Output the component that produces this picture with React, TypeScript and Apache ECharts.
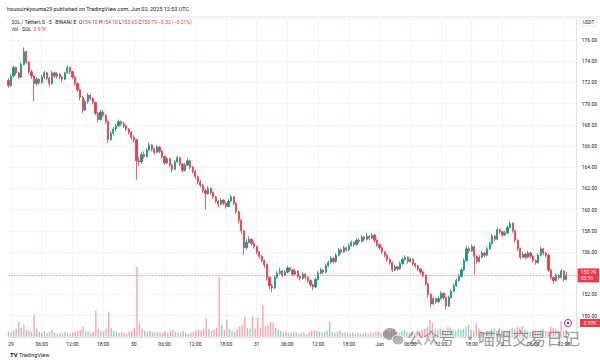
import React, { useEffect, useRef } from "react";
import * as echarts from "echarts";

// ---- data (30-minute aggregation) ----
const firstOpen = 172.2;
const closes = [
  171.7, 172.6, 173.4, 172.9, 172.5, 173.7, 174.9, 173.9, 173.0, 172.6, 171.9, 172.3,
  172.0, 172.5, 172.9, 172.4, 171.9, 172.9, 172.6, 172.8, 172.5, 172.3, 172.9, 173.4,
  173.0, 172.5, 171.9, 171.3, 170.6, 169.4, 170.2, 170.8, 170.5, 170.1, 169.1, 168.5,
  169.2, 168.9, 168.3, 166.6, 167.2, 167.6, 167.9, 168.3, 168.1, 167.9, 167.6, 167.3,
  166.8, 166.6, 164.6, 164.5, 165.2, 165.0, 165.6, 166.1, 165.7, 165.4, 165.9, 165.5,
  165.0, 164.4, 164.8, 164.2, 163.8, 164.5, 164.9, 164.3, 163.7, 164.2, 164.6, 164.0,
  163.6, 163.1, 162.6, 162.3, 161.8, 161.5, 162.0, 161.6, 161.2, 160.8, 160.5, 160.9,
  160.6, 160.3, 160.8, 161.2, 160.6, 159.8, 159.0, 158.0, 156.4, 156.9, 157.2, 156.8,
  156.5, 156.0, 155.6, 155.2, 154.8, 153.6, 152.8, 152.6, 153.6, 154.0, 154.2, 153.8,
  154.1, 154.5, 154.3, 153.9, 154.2, 153.7, 153.5, 153.9, 153.6, 153.3, 152.9, 152.7,
  153.4, 154.0, 154.3, 154.1, 154.7, 155.0, 155.4, 155.1, 155.7, 156.2, 156.0, 156.4,
  156.2, 156.6, 156.9, 156.7, 157.1, 157.0, 157.4, 157.2, 157.5, 157.3, 157.6, 157.1,
  156.7, 156.4, 156.0, 155.7, 155.3, 155.0, 154.3, 154.6, 154.4, 154.9, 155.3, 155.5,
  155.1, 155.3, 154.9, 154.7, 154.4, 154.1, 153.8, 153.0, 152.0, 151.1, 151.6, 151.3,
  151.6, 152.1, 151.7, 150.9, 151.7, 152.3, 152.8, 153.3, 153.7, 154.3, 155.2, 156.3,
  156.1, 156.5, 155.6, 155.1, 155.5, 155.9, 155.7, 156.3, 156.8, 157.5, 157.2, 158.1,
  157.9, 157.6, 157.8, 158.3, 158.7, 158.0, 157.1, 156.3, 155.5, 155.8, 155.5, 155.9,
  155.6, 155.2, 155.0, 155.7, 156.3, 155.9, 155.7, 154.3, 153.6, 153.3, 153.8, 153.6,
  154.2, 153.4, 153.79,
];
const highs = [
  172.4, 172.8, 173.6, 173.5, 173.0, 173.9, 175.3, 175.0, 174.0, 173.2, 172.7, 172.5,
  172.4, 172.7, 173.1, 173.0, 172.5, 173.1, 173.0, 173.0, 172.9, 172.6, 173.0, 173.6,
  173.5, 173.1, 172.6, 172.0, 171.4, 170.7, 170.4, 171.0, 170.9, 170.6, 170.2, 169.2,
  169.4, 169.4, 169.0, 168.4, 167.4, 167.8, 168.1, 168.5, 168.4, 168.3, 168.0, 167.7,
  167.4, 167.0, 166.7, 165.0, 165.4, 165.5, 165.8, 166.3, 166.2, 165.8, 166.1, 166.0,
  165.6, 165.1, 165.0, 164.9, 164.3, 164.7, 165.1, 165.0, 164.4, 164.4, 164.8, 164.7,
  164.1, 163.7, 163.2, 162.8, 162.4, 162.0, 162.2, 162.1, 161.7, 161.3, 160.9, 161.1,
  161.0, 160.7, 161.0, 161.4, 161.3, 160.7, 159.9, 159.1, 158.1, 157.2, 157.5, 157.3,
  157.0, 156.6, 156.1, 155.7, 155.3, 154.9, 153.7, 153.0, 153.8, 154.2, 154.5, 154.3,
  154.3, 154.7, 154.6, 154.4, 154.4, 154.3, 153.8, 154.1, 154.0, 153.7, 153.4, 153.0,
  153.6, 154.2, 154.5, 154.4, 154.9, 155.2, 155.6, 155.5, 155.9, 156.4, 156.3, 156.6,
  156.5, 156.8, 157.1, 157.0, 157.3, 157.3, 157.6, 157.5, 157.8, 157.6, 157.8, 157.7,
  157.2, 156.8, 156.5, 156.1, 155.8, 155.4, 155.1, 154.8, 154.7, 155.1, 155.5, 155.7,
  155.6, 155.5, 155.4, 155.0, 154.8, 154.5, 154.2, 153.9, 153.1, 152.1, 151.8, 151.7,
  151.8, 152.3, 152.2, 151.8, 151.9, 152.5, 153.0, 153.5, 153.9, 154.5, 155.4, 156.6,
  156.5, 156.7, 156.6, 155.7, 155.7, 156.1, 156.0, 156.5, 157.0, 157.7, 157.6, 158.3,
  158.2, 158.0, 158.0, 158.5, 158.9, 158.8, 158.1, 157.2, 156.4, 156.0, 155.9, 156.1,
  156.0, 155.7, 155.3, 155.9, 156.5, 156.4, 156.0, 155.8, 154.4, 153.7, 154.0, 153.9,
  154.4, 154.3, 154.1,
];
const lows = [
  171.5, 171.6, 172.5, 172.7, 172.3, 172.4, 173.6, 173.7, 172.8, 172.3, 170.2, 171.7,
  171.8, 171.9, 172.3, 172.2, 171.6, 171.8, 172.4, 172.4, 172.3, 172.0, 172.2, 172.8,
  172.8, 172.3, 171.7, 171.1, 170.3, 169.1, 169.3, 170.0, 170.3, 169.9, 168.9, 168.2,
  168.4, 168.7, 168.1, 166.3, 166.5, 167.0, 167.4, 167.8, 167.9, 167.7, 167.4, 167.1,
  166.6, 166.3, 162.8, 164.1, 164.3, 164.8, 164.9, 165.5, 165.5, 165.2, 165.3, 165.3,
  164.8, 164.2, 164.3, 164.0, 163.5, 163.7, 164.4, 164.1, 163.5, 163.6, 164.1, 163.8,
  163.4, 162.9, 162.4, 162.1, 161.6, 160.0, 161.4, 161.4, 161.0, 160.6, 160.2, 160.4,
  160.4, 160.1, 160.2, 160.7, 160.4, 159.6, 158.7, 157.7, 155.7, 156.2, 156.8, 156.6,
  156.3, 155.8, 155.4, 155.0, 154.5, 153.3, 152.5, 152.2, 152.5, 153.5, 153.9, 153.6,
  153.7, 154.0, 154.1, 153.7, 153.8, 153.5, 153.3, 153.4, 153.4, 153.1, 152.7, 152.4,
  152.6, 153.3, 153.9, 153.9, 154.0, 154.6, 154.9, 154.9, 155.0, 155.6, 155.8, 155.9,
  156.0, 156.1, 156.5, 156.5, 156.6, 156.8, 156.9, 157.0, 157.1, 157.1, 157.2, 156.9,
  156.5, 156.2, 155.8, 155.5, 155.1, 154.8, 154.1, 154.2, 154.2, 154.3, 154.8, 155.2,
  154.9, 155.0, 154.7, 154.5, 154.2, 153.9, 153.6, 152.8, 151.7, 150.8, 151.0, 151.1,
  151.2, 151.5, 151.5, 150.6, 150.8, 151.6, 152.2, 152.7, 153.2, 153.6, 154.2, 155.1,
  155.9, 156.0, 153.9, 154.9, 155.0, 155.4, 155.5, 155.6, 156.2, 156.7, 157.0, 157.1,
  157.7, 157.4, 157.5, 157.7, 158.2, 157.8, 156.9, 156.1, 155.3, 155.4, 155.3, 155.4,
  155.4, 155.0, 154.8, 154.9, 155.6, 155.7, 155.5, 154.1, 153.4, 153.0, 153.2, 153.4,
  153.5, 153.2, 153.3,
];
const volumes = [
  5, 4, 6, 8, 15, 9, 12, 7, 6, 5, 22, 8,
  5, 4, 6, 4, 5, 7, 4, 3, 4, 3, 5, 4,
  3, 4, 5, 6, 7, 10, 6, 5, 4, 5, 26, 8,
  6, 5, 8, 25, 9, 6, 5, 4, 5, 4, 3, 5,
  6, 9, 70, 14, 8, 6, 5, 6, 5, 4, 5, 4,
  4, 5, 4, 6, 7, 5, 4, 4, 6, 4, 3, 4,
  5, 6, 7, 6, 8, 18, 8, 6, 7, 9, 60, 12,
  7, 17, 8, 6, 5, 8, 10, 12, 20, 9, 8, 20,
  8, 19, 9, 32, 10, 12, 15, 14, 9, 7, 6, 5,
  5, 4, 4, 5, 4, 3, 4, 4, 3, 5, 6, 7,
  6, 5, 4, 5, 6, 15, 5, 4, 5, 6, 4, 4,
  4, 3, 4, 3, 4, 3, 3, 4, 3, 4, 4, 5,
  5, 4, 5, 6, 5, 6, 8, 5, 4, 6, 7, 5,
  4, 5, 4, 5, 6, 7, 8, 10, 17, 14, 8, 7,
  8, 7, 6, 10, 9, 7, 6, 8, 7, 8, 10, 12,
  7, 6, 14, 8, 6, 5, 5, 6, 7, 8, 6, 9,
  6, 5, 6, 7, 9, 8, 10, 9, 11, 7, 6, 5,
  5, 6, 6, 7, 8, 6, 5, 10, 9, 8, 6, 15,
  6, 7, 5,
];
// one tick label every 12 bars (6 hours), starting at bar 1 (29 May 00:00)
const tickLabels = [
  "29", "06:00", "12:00", "18:00", "30", "06:00", "12:00", "18:00",
  "31", "06:00", "12:00", "18:00", "Jun", "06:00", "12:00", "18:00",
  "2", "06:00", "12:00",
];
const slotCount = 223;
const lastPrice = 153.79;

const UP = "#089981";
const DOWN = "#F23645";
const FONT = "Roboto, 'Liberation Sans', sans-serif";

export default function App() {
  const ref = useRef<HTMLDivElement>(null);

  useEffect(() => {
    if (!ref.current) return;
    const chart = echarts.init(ref.current, undefined, { renderer: "svg" });

    const categories = Array.from({ length: slotCount }, (_, i) => String(i));
    const candles = closes.map((c, i) => {
      const o = i === 0 ? firstOpen : closes[i - 1];
      return [o, c, lows[i], highs[i]];
    });
    const vols = volumes.map((v, i) => {
      const o = i === 0 ? firstOpen : closes[i - 1];
      const up = closes[i] >= o;
      return {
        value: v,
        itemStyle: { color: up ? "rgba(8,153,129,0.45)" : "rgba(242,54,69,0.45)" },
      };
    });
    const isTick = (idx: number) => idx >= 1 && (idx - 1) % 12 === 0;

    const option: echarts.EChartsOption = {
      animation: false,
      backgroundColor: "#ffffff",
      textStyle: { fontFamily: FONT },
      grid: [
        { left: 8.43, right: 21, top: 18.8, bottom: 25.2 },
        { left: 8.43, right: 21, top: 256.8, bottom: 25.2 },
      ],
      xAxis: [
        {
          type: "category",
          gridIndex: 0,
          data: categories,
          boundaryGap: false,
          axisLine: { show: true, lineStyle: { color: "#e0e3eb" } },
          axisTick: { show: false },
          axisLabel: {
            interval: (idx: number) => isTick(idx),
            formatter: (_v: string, idx: number) => tickLabels[(idx - 1) / 12] ?? "",
            fontSize: 5,
            color: "#131722",
            margin: 5,
            fontFamily: FONT,
          },
          splitLine: {
            show: true,
            interval: (idx: number) => isTick(idx),
            lineStyle: { color: "#f0f3fa", width: 1 },
          },
        },
        {
          type: "category",
          gridIndex: 1,
          data: categories,
          boundaryGap: false,
          show: false,
        },
      ],
      yAxis: [
        {
          type: "value",
          gridIndex: 0,
          position: "right",
          min: 148,
          max: 178,
          interval: 2,
          axisLine: { show: true, lineStyle: { color: "#e0e3eb" } },
          axisTick: { show: false },
          axisLabel: {
            fontSize: 5,
            color: "#131722",
            margin: 5,
            fontFamily: FONT,
            formatter: (v: number) => (v === 148 || v === 178 ? "" : v.toFixed(2)),
          },
          splitLine: { show: true, lineStyle: { color: "#f0f3fa", width: 1 } },
        },
        {
          type: "value",
          gridIndex: 1,
          min: 0,
          max: 80,
          show: false,
          splitLine: { show: false },
        },
      ],
      series: [
        {
          type: "bar",
          xAxisIndex: 1,
          yAxisIndex: 1,
          data: vols,
          barWidth: 1.4,
          z: 1,
        },
        {
          type: "candlestick",
          xAxisIndex: 0,
          yAxisIndex: 0,
          data: candles,
          barWidth: 1.7,
          clip: false,
          z: 3,
          itemStyle: {
            color: UP,
            color0: DOWN,
            borderColor: UP,
            borderColor0: DOWN,
            borderWidth: 0.8,
          },
          markLine: {
            silent: true,
            symbol: "none",
            data: [{ yAxis: lastPrice }],
            lineStyle: { color: DOWN, type: [1, 2], width: 0.8 },
            label: {
              show: true,
              position: "end",
              distance: 1,
              formatter: "153.79\n05:19",
              backgroundColor: DOWN,
              color: "#ffffff",
              fontSize: 5,
              lineHeight: 6,
              padding: [1, 3, 1, 3],
              fontFamily: FONT,
            },
          },
        },
      ],
      graphic: [
        {
          type: "text",
          left: 7,
          top: 6,
          style: {
            text: "hououinkyouma29 published on TradingView.com, Jun 02, 2025 12:53 UTC",
            fontSize: 5.5,
            fill: "#131722",
            fontFamily: FONT,
          },
        },
        {
          type: "line",
          shape: { x1: 7, y1: 17, x2: 600, y2: 17 },
          style: { stroke: "#e0e3eb", lineWidth: 1 },
        },
        {
          type: "text",
          left: 11,
          top: 19,
          style: {
            text:
              "{a|SOL / TetherUS · 5 · BINANCE  O}{b|154.10}{a| H}{b|154.10}{a| L}{b|153.65}{a| C}{b|153.79}{b| −0.32 (−0.21%)}",
            fontFamily: FONT,
            rich: {
              a: { fill: "#131722", fontSize: 5, fontFamily: FONT },
              b: { fill: DOWN, fontSize: 5, fontFamily: FONT },
            },
          },
        },
        {
          type: "text",
          left: 11,
          top: 26,
          style: {
            text: "{a|Vol · SOL  }{b|3.97K}",
            fontFamily: FONT,
            rich: {
              a: { fill: "#131722", fontSize: 5, fontFamily: FONT },
              b: { fill: DOWN, fontSize: 5, fontFamily: FONT },
            },
          },
        },
        {
          type: "rect",
          shape: { x: 580, y: 18, width: 17, height: 8, r: 1 },
          style: { fill: "#ffffff", stroke: "#e0e3eb", lineWidth: 0.8 },
        },
        {
          type: "text",
          x: 588.5,
          y: 22,
          style: {
            text: "USDT",
            fontSize: 4.5,
            fill: "#131722",
            align: "center",
            verticalAlign: "middle",
            fontFamily: FONT,
          },
        },
        {
          type: "rect",
          shape: { x: 580, y: 319, width: 20, height: 8 },
          style: { fill: DOWN },
          z: 10,
        },
        {
          type: "text",
          x: 590,
          y: 323,
          z: 11,
          style: {
            text: "3.97K",
            fontSize: 5,
            fill: "#ffffff",
            align: "center",
            verticalAlign: "middle",
            fontFamily: FONT,
          },
        },
        // watermark
        {
          type: "ellipse",
          shape: { cx: 390, cy: 334, rx: 7, ry: 6 },
          style: { fill: "rgba(110,110,110,0.6)" },
          z: 20,
        },
        {
          type: "ellipse",
          shape: { cx: 398, cy: 340, rx: 6, ry: 5 },
          style: { fill: "rgba(150,150,150,0.7)", stroke: "#ffffff", lineWidth: 1 },
          z: 21,
        },
        {
          type: "text",
          x: 407,
          y: 337,
          z: 20,
          style: {
            text: "公众号",
            fontSize: 16,
            fill: "rgba(90,90,90,0.6)",
            verticalAlign: "middle",
            fontFamily: "'Noto Sans CJK SC', sans-serif",
          },
        },
        {
          type: "text",
          x: 470,
          y: 337,
          z: 20,
          style: {
            text: "·",
            fontSize: 16,
            fill: "rgba(90,90,90,0.6)",
            align: "center",
            verticalAlign: "middle",
            fontFamily: "'Noto Sans CJK SC', sans-serif",
          },
        },
        {
          type: "text",
          x: 478,
          y: 337,
          z: 20,
          style: {
            text: "喵姐交易日记",
            fontSize: 17,
            fill: "rgba(90,90,90,0.6)",
            verticalAlign: "middle",
            fontFamily: "'Noto Sans CJK SC', sans-serif",
          },
        },
        {
          type: "circle",
          shape: { cx: 568, cy: 323, r: 3.5 },
          style: { fill: "#ffffff", stroke: "#9c27b0", lineWidth: 1 },
          z: 22,
        },
        {
          type: "circle",
          shape: { cx: 568, cy: 323, r: 1.3 },
          style: { fill: "#9c27b0" },
          z: 23,
        },
        // TradingView logo
        {
          type: "text",
          left: 10,
          top: 351,
          style: {
            text: "TV",
            fontSize: 6,
            fontWeight: "bold",
            fill: "#131722",
            fontFamily: FONT,
          },
        },
        {
          type: "text",
          left: 19,
          top: 351.5,
          style: {
            text: "TradingView",
            fontSize: 5.5,
            fill: "#131722",
            fontFamily: FONT,
          },
        },
      ],
    };

    chart.setOption(option);
    return () => chart.dispose();
  }, []);

  return (
    <div
      ref={ref}
      style={{ position: "fixed", left: 0, top: 0, width: 600, height: 362 }}
    />
  );
}
